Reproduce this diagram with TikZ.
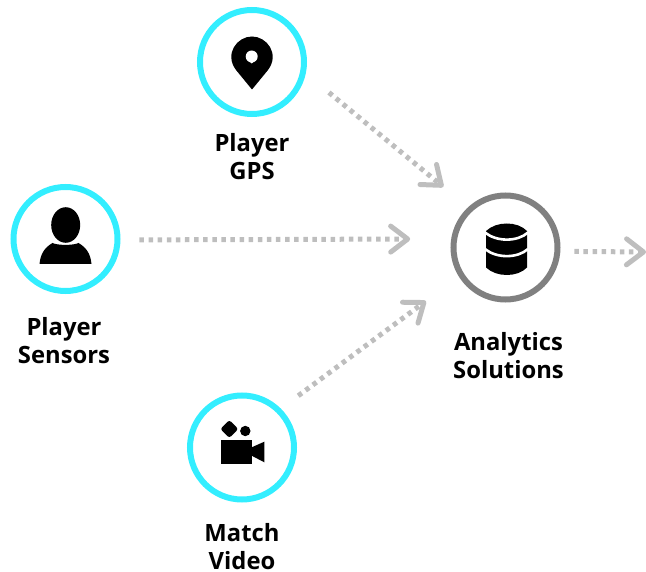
\documentclass[tikz,border=0pt]{standalone}
\usepackage{fontspec}
\setmainfont{Open Sans}
\usetikzlibrary{arrows.meta}
\definecolor{ringcyan}{HTML}{33EEFF}
\definecolor{ringgray}{HTML}{808080}
\definecolor{flowgray}{HTML}{BEBEBE}
\tikzset{
  ring/.style={circle,draw=#1,line width=6pt,minimum size=104pt,inner sep=0pt},
  flow/.style={draw=flowgray,line width=5pt,dash pattern=on 4.5pt off 4.6pt,
    -{Straight Barb[length=17pt,width=26pt,line width=5pt,round]}},
  caption/.style={font=\fontsize{23.8pt}{28pt}\selectfont\bfseries,align=center,inner sep=0pt}
}

\begin{document}
\begin{tikzpicture}[x=1pt,y=-1pt]
\useasboundingbox (0,0) rectangle (646,572);

\node[ring=ringcyan] (gps) at (252,62) {};
\node[ring=ringcyan] (sensors) at (65.5,239) {};
\node[ring=ringcyan] (video) at (242,447.5) {};
\node[ring=ringgray] (analytics) at (505.5,247.5) {};
\coordinate (output) at (646,252);

\node[caption] (gpslabel) at (252,157) {Player\\GPS};
\node[caption] (sensorslabel) at (64,341) {Player\\Sensors};
\node[caption] (videolabel) at (242,546.8) {Match\\Video};
\node[caption] (analyticslabel) at (508.5,356) {Analytics\\Solutions};

\draw[flow,shorten <=30pt,shorten >=32pt] (gps.-12.5) -- (analytics.133);
\draw[flow,shorten <=19pt,shorten >=41pt] (sensors.-1) -- (analytics.171.7);
\draw[flow,shorten <=21.6pt,shorten >=41pt] (video.45.6) -- (analytics.212.8);
\draw[flow,shorten <=14pt] (analytics.-4) -- (output);

% pin
\begin{scope}[shift={(gps)}]
\fill (0,27.5) -- (-16,8) .. controls (-28,-8) and (-15,-25.5) .. (0,-25.5)
  .. controls (15,-25.5) and (28,-8) .. (16,8) -- cycle;
\fill[white] (-0.3,-5.5) circle[radius=6];
\fill[white] (-0.3,1.5) -- (-5.3,-3) -- (4.7,-3) -- cycle;
\end{scope}

% person
\begin{scope}[shift={(sensors)}]
\fill (0.2,-14) ellipse[x radius=14.5,y radius=17.8];
\fill (-26,25) .. controls (-25,14) and (-20,8) .. (-13,4)
  .. controls (-8,6.5) and (8,6.5) .. (13,4)
  .. controls (20,8) and (25,14) .. (26,25) -- cycle;
\end{scope}

% camera
\begin{scope}[shift={(video)}]
\fill (-21,-7.5) rectangle (9.7,16.5);
\fill (9.7,-0.2) -- (22.3,-5.8) -- (22.3,14.8) -- (9.7,8.2) -- cycle;
\fill[rounded corners=2.5pt] (-12.7,-27.5) -- (-3.7,-18.5) -- (-12.7,-9.5) -- (-21.7,-18.5) -- cycle;
\fill (3.3,-16.5) circle[radius=5.2];
\end{scope}

% database
\begin{scope}[shift={(analytics)}]
\fill (-19.5,-16.5) .. controls (-9,-26.5) and (12,-26.5) .. (21.5,-16.5)
  -- (21.5,20) .. controls (12,30) and (-9,30) .. (-19.5,20) -- cycle;
\draw[white,line width=2.6pt] (-20.5,-15) .. controls (-9,-5.5) and (12,-5.5) .. (22.5,-15);
\draw[white,line width=2.6pt] (-20.5,1.5) .. controls (-9,11) and (12,11) .. (22.5,1.5);
\end{scope}

\end{tikzpicture}
\end{document}
